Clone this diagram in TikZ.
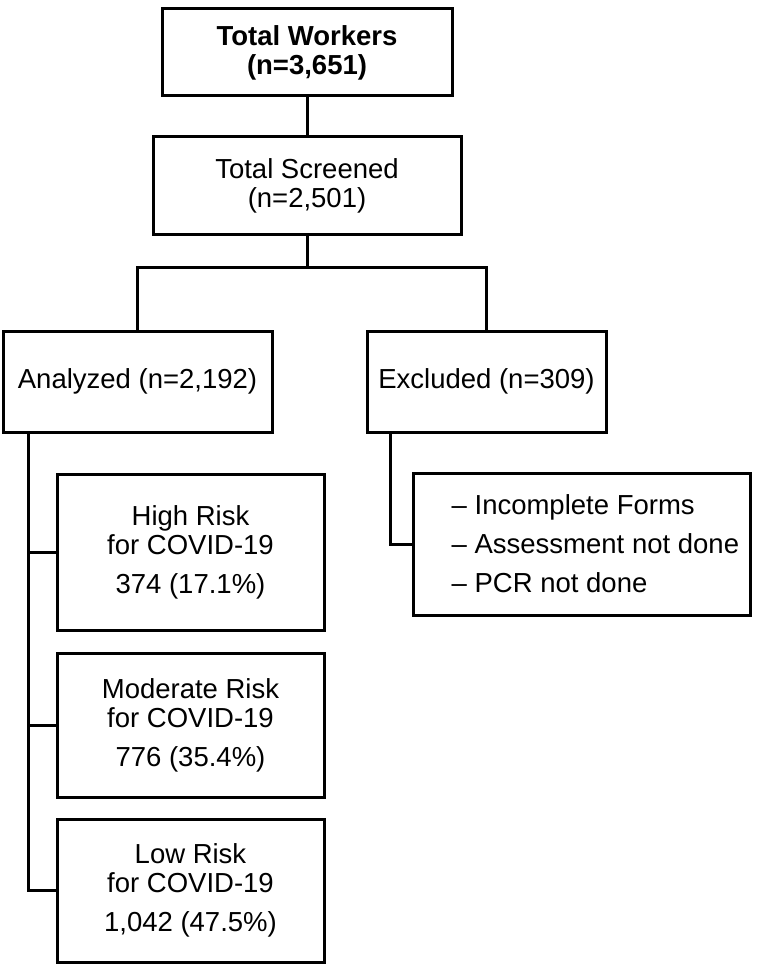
\documentclass[tikz,border=0pt]{standalone}
\usepackage{fontspec}
\setmainfont{Liberation Sans}
\usetikzlibrary{calc,positioning}
\tikzset{
  box/.style={rectangle, draw, line width=3pt, align=center, inner sep=2pt,
    font=\fontsize{27.5pt}{29pt}\selectfont},
  riskbox/.style={box, minimum width=267pt},
  listtxt/.style={anchor=west, align=left, inner sep=0pt,
    font=\fontsize{27.5pt}{29pt}\selectfont},
  link/.style={line width=3pt}
}

\begin{document}
\begin{tikzpicture}[x=1pt, y=-1pt]
    \useasboundingbox (0,0) rectangle (756,973);

    \node[box, minimum width=290pt, minimum height=87pt,
      font=\fontsize{27.5pt}{29pt}\selectfont\bfseries] (total) at (307,52.5) {Total Workers\\(n=3,651)};
    \node[box, minimum width=308pt, minimum height=98pt] (screen) at (307,186) {Total Screened\\(n=2,501)};

    \node[box, minimum width=269pt, minimum height=101pt] (analyzed) at (137.5,381.5) {Analyzed (n=2,192)};
    \node[box, minimum width=239pt, minimum height=101pt] (excluded) at (486.5,381.5) {Excluded (n=309)};

    \foreach \name/\y/\h/\lvl/\cnt in {
      high/552/156/High/374 (17.1\%),
      moderate/725/144/Moderate/776 (35.4\%),
      low/890.5/143/Low/{1,042 (47.5\%)}}
    {
      \node[riskbox, minimum height=\h] (\name) at (190.5,\y) {\lvl\ Risk\\for COVID-19\\[10pt]\cnt};
    }

    \node[box, minimum width=337pt, minimum height=142pt] (reasons) at (581.5,544) {};
    \node[listtxt] (reasonlist) at ($(reasons.west)+(40,0)$)
      {\textendash\ Incomplete Forms\\[10pt]\textendash\ Assessment not done\\[10pt]\textendash\ PCR not done};

    \coordinate (split) at (307,268);
    \coordinate (trunk) at ($(analyzed.south west)+(27,0)$);
    \coordinate (extrunk) at ($(excluded.south west)+(25,0)$);

    \draw[link] (total) -- (screen);
    \draw[link] (screen) -- (split);
    \draw[link] (analyzed.north) |- (split) -| (excluded.north);

    \draw[link] (trunk) |- (low.west);
    \draw[link] (trunk |- high.west) -- (high.west);
    \draw[link] (trunk |- moderate.west) -- (moderate.west);

    \draw[link] (extrunk) |- (reasons.west);
  \end{tikzpicture}
\end{document}
